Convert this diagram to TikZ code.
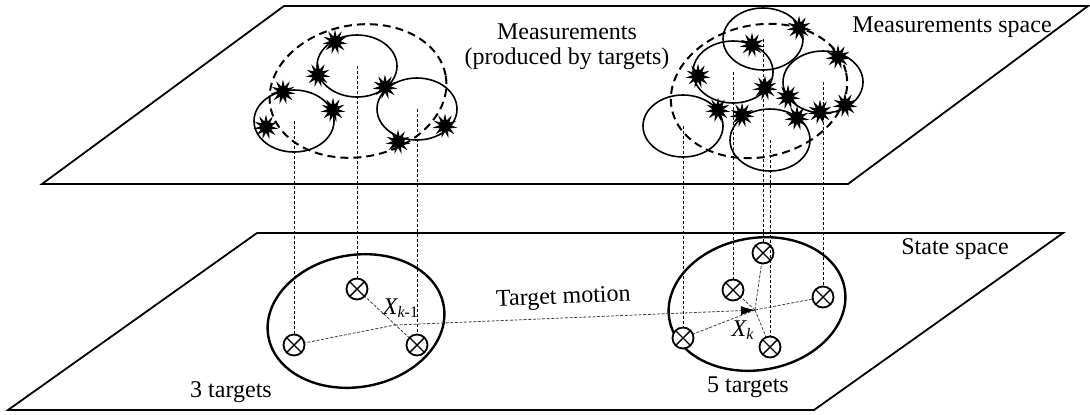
\documentclass[tikz,border=0pt]{standalone}
\usepackage{fontspec}
\setmainfont{Liberation Serif}
\usetikzlibrary{shapes.geometric,arrows.meta}

\begin{document}
\begin{tikzpicture}[x=0.5pt,y=-0.5pt,
    font=\fontsize{12pt}{12.5pt}\selectfont,
    plane/.style={line width=0.9pt},
    meas/.style={draw,ellipse,line width=0.8pt,minimum width=40pt,minimum height=31pt,inner sep=0pt},
    group/.style={draw,ellipse,line width=1.2pt,minimum width=89pt,minimum height=66pt,inner sep=0pt},
    gate/.style={draw,ellipse,line width=1pt,dash pattern=on 4pt off 2.5pt,minimum width=89pt,minimum height=66pt,inner sep=0pt},
    target/.style={draw,circle,line width=0.9pt,minimum size=10.5pt,inner sep=0pt,fill=white,
      path picture={\draw[line width=0.7pt] (path picture bounding box.north west) -- (path picture bounding box.south east)
        (path picture bounding box.north east) -- (path picture bounding box.south west);}},
    burst/.style={star,star points=11,star point ratio=2.2,fill=black,inner sep=0pt,minimum size=12.5pt},
    proj/.style={line width=0.4pt,dash pattern=on 1.5pt off 1pt},
    link/.style={line width=0.4pt,dash pattern=on 1.5pt off 0.8pt,black!75}
  ]
  \useasboundingbox (0,0) rectangle (1090,414);

  % the two spaces
  \draw[plane] (42,184) -- (848,184) -- (1088,6) -- (284,6) -- cycle;
  \draw[plane] (8,410) -- (814,410) -- (1063,233) -- (257,233) -- cycle;
  \node[anchor=base] (mspace) at (952,32) {Measurements space};
  \node[anchor=base] (sspace) at (955,254) {State space};
  \node[align=center] (meastxt) at (567,47) {Measurements\\(produced by targets)};

  % measurements
  \node[gate,rotate=10] (ga) at (358,91) {};
  \node[gate,rotate=12] (gb) at (759,91) {};
  \node[meas] (ma) at (294,121) {};
  \node[meas] (mb) at (357,66) {};
  \node[meas] (mc) at (417,109) {};
  \node[meas] (md) at (763,39) {};
  \node[meas] (me) at (733,72) {};
  \node[meas] (mf) at (823,82) {};
  \node[meas] (mg) at (683,126) {};
  \node[meas] (mh) at (770,140) {};
  \foreach \x/\y [count=\i] in {335/42,318/75,385/87,283/92,333/110,266/127,398/142,445/126,
      799/28,752/45,838/57,698/76,765/88,788/97,718/110,742/115,845/105,820/112,797/118}
    \node[burst] (s\i) at (\x,\y) {};

  % targets
  \node[group,rotate=10] (sa) at (356,321) {};
  \node[group,rotate=10] (sb) at (757,304) {};
  \node[anchor=base] (na) at (231,397) {3 targets};
  \node[anchor=base] (nb) at (748,392) {5 targets};
  \coordinate (xa) at (395,325);
  \coordinate (xb) at (755,310);

  \draw[link] (xb) -- (763,253);
  \draw[link] (xb) -- (733,290);
  \draw[link] (xb) -- (823,297);
  \draw[link] (xb) -- (683,338);
  \draw[link] (xb) -- (770,347);
  \draw[link] (294,345) -- (xa);
  \draw[link] (357,289) -- (417,345);
  \draw[link,-{Latex[length=7pt,width=4.5pt,black]}] (xa) -- (xb)
    node[pos=0.47,above=1pt,sloped,black] (motion) {Target motion};

  \node[target] (ta) at (294,345) {};
  \node[target] (tb) at (357,289) {};
  \node[target] (tc) at (417,345) {};
  \node[target] (ud) at (763,253) {};
  \node[target] (ue) at (733,290) {};
  \node[target] (uf) at (823,297) {};
  \node[target] (ug) at (683,338) {};
  \node[target] (uh) at (770,347) {};
  \node (xla) at (401,308) {{\itshape X}\textsubscript{\itshape k\upshape -1}};
  \node (xlb) at (743,330) {{\itshape X}\textsubscript{\itshape k}};

  % projections
  \draw[proj] (ma.center) -- (ta.north);
  \draw[proj] (mb.center) -- (tb.north);
  \draw[proj] (mc.center) -- (tc.north);
  \draw[proj] (md.center) -- (ud.north);
  \draw[proj] (me.center) -- (ue.north);
  \draw[proj] (mf.center) -- (uf.north);
  \draw[proj] (mg.center) -- (ug.north);
  \draw[proj] (mh.center) -- (uh.north);
\end{tikzpicture}
\end{document}
